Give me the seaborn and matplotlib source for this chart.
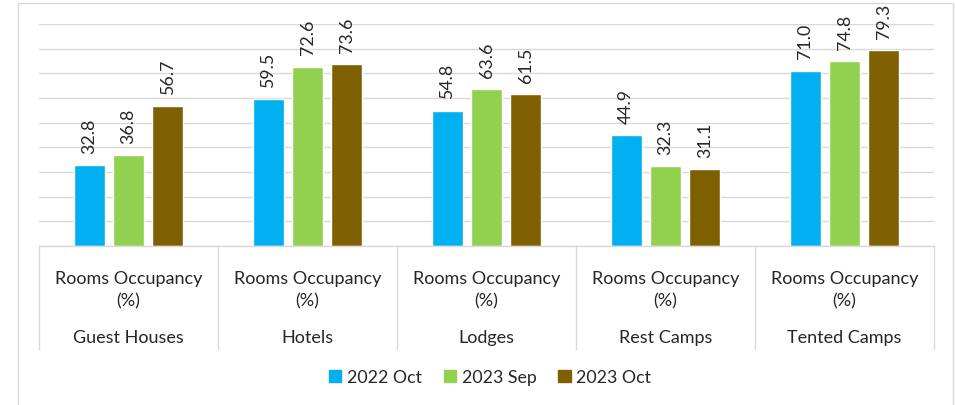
import pandas as pd
import matplotlib.pyplot as plt
import matplotlib.transforms as mtransforms
from matplotlib.patches import Rectangle
import seaborn as sns

# data
categories = ["Guest Houses", "Hotels", "Lodges", "Rest Camps", "Tented Camps"]
measure = "Rooms Occupancy\n(%)"
periods = ["2022 Oct", "2023 Sep", "2023 Oct"]
occ_2022_oct = [32.8, 59.5, 54.8, 44.9, 71.0]
occ_2023_sep = [36.8, 72.6, 63.6, 32.3, 74.8]
occ_2023_oct = [56.7, 73.6, 61.5, 31.1, 79.3]
colors = ["#00B0F0", "#92D050", "#7F6000"]

df = pd.DataFrame({
    "category": categories * 3,
    "period": [p for p in periods for _ in categories],
    "value": occ_2022_oct + occ_2023_sep + occ_2023_oct,
})

sns.set_style("white")
plt.rcParams["font.family"] = ["Lato", "DejaVu Sans"]
grid_col = "#D9D9D9"

fig = plt.figure(figsize=(9.55, 4.06), dpi=100)
W, H = 955, 406
ax = fig.add_axes([39 / W, (H - 247) / H, (934 - 39) / W, (247 - 25) / H])

sns.barplot(data=df, x="category", y="value", hue="period", order=categories,
            hue_order=periods, palette=colors, width=0.66, gap=0.21,
            saturation=1, legend=False, ax=ax)

for cont in ax.containers:
    ax.bar_label(cont, fmt="%.1f", rotation=90, padding=9, fontsize=12.8)

# -----------------------------
# axes styling
# -----------------------------
ax.set_ylim(0, 90)
ax.set_xlim(-0.5, len(categories) - 0.5)
ax.set_yticks(range(0, 100, 10))
ax.yaxis.grid(True, color=grid_col, linewidth=1)
ax.set_axisbelow(True)
ax.tick_params(axis="both", length=0, labelleft=False, labelbottom=False)
ax.set_xlabel("")
ax.set_ylabel("")
for s in ["top", "right", "left"]:
    ax.spines[s].set_visible(False)
ax.spines["bottom"].set_color(grid_col)
ax.spines["bottom"].set_linewidth(1)

# multi-level category labels with separators
trans = mtransforms.blended_transform_factory(ax.transData, ax.transAxes)
depth = (350 - 247) / (247 - 25)
for i in range(len(categories) + 1):
    ax.plot([i - 0.5, i - 0.5], [0, -depth], color=grid_col, lw=1,
            transform=trans, clip_on=False)
px = 1 / (247 - 25)
for i, cat in enumerate(categories):
    ax.text(i, -(290 - 247) * px, measure, transform=trans, ha="center",
            va="center", fontsize=13, linespacing=1.5)
    ax.text(i, -(338 - 247) * px, cat, transform=trans, ha="center",
            va="center", fontsize=13)

# legend
handles = [Rectangle((0, 0), 1, 1, color=c) for c in colors]
fig.legend(handles, periods, loc="center", ncol=3, frameon=False,
           bbox_to_anchor=(490 / W, (H - 378) / H), fontsize=12.8,
           handlelength=0.7, handleheight=0.7, handletextpad=0.3,
           columnspacing=1.25)

# outer chart frame
fig.patches.append(Rectangle((18 / W, -0.1), (953 - 18) / W, 1.1 - 4 / H,
                             transform=fig.transFigure, fill=False,
                             edgecolor=grid_col, lw=1))

fig.savefig("out.png", dpi=100)
